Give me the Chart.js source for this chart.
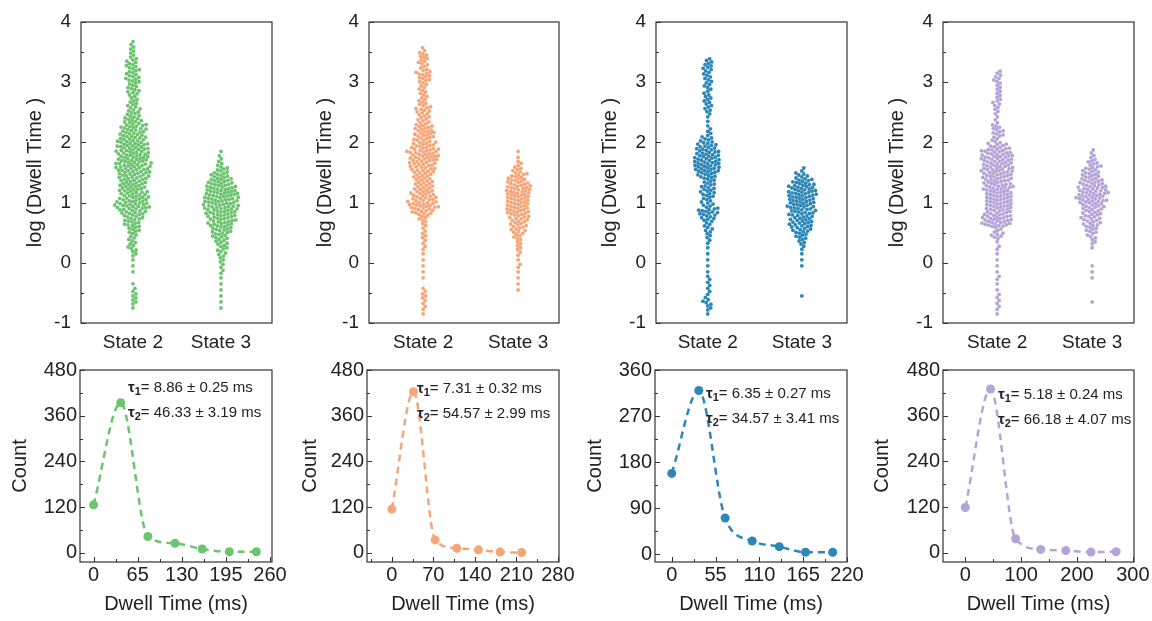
<!DOCTYPE html>
<html>
<head>
<meta charset="utf-8">
<script src="https://cdn.jsdelivr.net/npm/chart.js@4/dist/chart.umd.min.js"></script>
<style>
    body { margin: 0; background: #fff; width: 1152px; height: 621px; position: relative; overflow: hidden; }
    canvas { position: absolute; }
</style>
</head>
<body>
<script>
// Swarm data: point counts per 0.1-wide bin of log(dwell time), starting at -1.0
const states = ['State 2', 'State 3'];
const binStart = -1;
const binSize = 0.1;

const greenState2 = [
    0, 0, 1, 3, 3, 2, 1, 0, 1, 1,
    1, 3, 4, 4, 4, 6, 8, 9, 12, 16,
    14, 13, 13, 13, 14, 16, 16, 15, 15, 15,
    13, 12, 12, 9, 7, 6, 5, 4, 6, 5,
    7, 6, 6, 5, 3, 3, 2, 0, 0, 0
];
const greenState3 = [
    0, 0, 1, 1, 1, 1, 1, 1, 2, 2,
    3, 4, 5, 6, 8, 10, 12, 13, 15, 16,
    16, 16, 14, 12, 9, 6, 3, 2, 1, 0
];
const orangeState2 = [
    0, 1, 2, 2, 3, 2, 0, 1, 1, 1,
    1, 1, 2, 2, 3, 2, 3, 5, 10, 14,
    12, 11, 9, 9, 9, 11, 12, 14, 14, 11,
    9, 10, 9, 6, 6, 7, 5, 4, 4, 4,
    6, 7, 4, 5, 5, 2, 0, 0, 0, 0
];
const orangeState3 = [
    0, 0, 0, 0, 0, 1, 1, 1, 1, 2,
    1, 2, 3, 3, 5, 7, 8, 9, 11, 11,
    11, 12, 12, 10, 8, 5, 3, 1, 1, 0
];
const blueState2 = [
    0, 1, 3, 4, 2, 2, 2, 2, 1, 1,
    1, 1, 1, 2, 3, 4, 4, 7, 10, 6,
    5, 7, 7, 6, 9, 12, 13, 12, 11, 9,
    6, 3, 2, 1, 2, 4, 4, 4, 3, 4,
    4, 4, 5, 4, 0, 0, 0, 0, 0, 0
];
const blueState3 = [
    0, 0, 0, 0, 1, 0, 0, 0, 0, 1,
    1, 1, 2, 4, 6, 9, 11, 11, 12, 13,
    13, 14, 13, 10, 6, 2, 0, 0, 0, 0
];
const purpleState2 = [
    0, 1, 2, 2, 2, 1, 1, 2, 1, 1,
    1, 1, 2, 1, 6, 4, 14, 14, 12, 13,
    13, 13, 14, 13, 14, 15, 14, 15, 14, 9,
    4, 6, 5, 2, 2, 3, 4, 3, 3, 3,
    4, 3, 0, 0, 0, 0, 0, 0, 0, 0
];
const purpleState3 = [
    0, 0, 0, 1, 0, 0, 0, 1, 1, 1,
    0, 0, 1, 3, 4, 6, 8, 9, 9, 11,
    14, 14, 13, 11, 9, 8, 6, 3, 2, 0
];

// Dwell time histograms (bin position in ms, count)
const dwellX1 = [0, 40, 80, 120, 160, 200, 240];
const count1 = [126, 394, 43, 25, 10, 3, 3];
const dwellX2 = [0, 36.5, 73, 109.5, 146, 182.5, 219];
const count2 = [115, 423, 34, 12, 8, 2, 1];
const dwellX3 = [0, 34, 67, 101, 135, 168, 202];
const count3 = [158, 320, 71, 26, 15, 4, 4];
const dwellX4 = [0, 45, 90, 135, 180, 225, 270];
const count4 = [119, 430, 37, 9, 6, 2, 3];

// Tick labels
const logTicks = [-1, 0, 1, 2, 3, 4];
const xTicks1 = [0, 65, 130, 195, 260];
const xTicks2 = [0, 70, 140, 210, 280];
const xTicks3 = [0, 55, 110, 165, 220];
const xTicks4 = [0, 100, 200, 300];
const countTicks480 = [0, 120, 240, 360, 480];
const countTicks360 = [0, 90, 180, 270, 360];

// Fitted lifetimes
const tau1Labels = ['8.86 ± 0.25 ms', '7.31 ± 0.32 ms', '6.35 ± 0.27 ms', '5.18 ± 0.24 ms'];
const tau2Labels = ['46.33 ± 3.19 ms', '54.57 ± 2.99 ms', '34.57 ± 3.41 ms', '66.18 ± 4.07 ms'];

const colors = ['#6cc46e', '#f5a679', '#2c87b8', '#b4a5d8'];

const panels = [
    { color: colors[0], s2: greenState2, s3: greenState3, xs: dwellX1, ys: count1, xTicks: xTicks1, yTicks: countTicks480, xMin: -20, xMax: 263, yMin: -24, yMax: 480 },
    { color: colors[1], s2: orangeState2, s3: orangeState3, xs: dwellX2, ys: count2, xTicks: xTicks2, yTicks: countTicks480, xMin: -42, xMax: 282, yMin: -24, yMax: 480 },
    { color: colors[2], s2: blueState2, s3: blueState3, xs: dwellX3, ys: count3, xTicks: xTicks3, yTicks: countTicks360, xMin: -21, xMax: 220, yMin: -15, yMax: 360 },
    { color: colors[3], s2: purpleState2, s3: purpleState3, xs: dwellX4, ys: count4, xTicks: xTicks4, yTicks: countTicks480, xMin: -40, xMax: 302, yMin: -24, yMax: 480 }
];

// Page layout of the eight plots (pixels)
const topRow = { top: 0, height: 356, boxTop: 22, boxBottom: 323 };
const bottomRow = { top: 355, height: 265, boxTop: 370, boxBottom: 562 };
const topBoxes = [
    { left: 0, boxL: 81, boxR: 272, catMin: 0.41, catMax: 2.58 },
    { left: 290, boxL: 369, boxR: 559, catMin: 0.43, catMax: 2.43 },
    { left: 575, boxL: 656, boxR: 847, catMin: 0.45, catMax: 2.48 },
    { left: 862, boxL: 943, boxR: 1134, catMin: 0.43, catMax: 2.44 }
];
const bottomBoxes = [
    { left: 0, boxL: 80, boxR: 272, titleX: 20, tauX: 48, tauY: 18 },
    { left: 290, boxL: 367, boxR: 559, titleX: 20, tauX: 50, tauY: 19 },
    { left: 580, boxL: 655, boxR: 847, titleX: 15, tauX: 51, tauY: 24 },
    { left: 862, boxL: 943, boxR: 1134, titleX: 20, tauX: 55, tauY: 25 }
];
const CANVAS_W = 290;
const FONT = "'Liberation Sans', Arial, sans-serif";
const TEXT = '#222';

Chart.defaults.font.family = FONT;
Chart.defaults.color = TEXT;

// Beeswarm layout: spread points of each bin sideways so dots don't overlap
function swarm(counts, pxPerY, diam) {
    const pts = [];
    counts.forEach((n, i) => {
        const lo = binStart + i * binSize;
        for (let j = 0; j < n; j++) pts.push(lo + (j + 0.5) / n * binSize);
    });
    const placed = [];
    pts.forEach(y => {
        const yp = y * pxPerY;
        const near = placed.filter(p => Math.abs(p.yp - yp) < diam);
        const cands = [0];
        near.forEach(p => {
            const dx = Math.sqrt(diam * diam - (p.yp - yp) ** 2);
            cands.push(p.xp + dx, p.xp - dx);
        });
        cands.sort((a, b) => Math.abs(a) - Math.abs(b));
        const xp = cands.find(c => near.every(p => (p.xp - c) ** 2 + (p.yp - yp) ** 2 >= diam * diam - 1e-6));
        placed.push({ xp, yp, y });
    });
    return placed;
}

// Frame around the plot area plus inward major/minor ticks
const frameTicks = {
    id: 'frameTicks',
    afterDatasetsDraw(chart, args, opts) {
        const { ctx, chartArea: a, scales } = chart;
        ctx.save();
        ctx.strokeStyle = '#333';
        ctx.lineWidth = 1.2;
        ctx.strokeRect(a.left, a.top, a.right - a.left, a.bottom - a.top);

        const marks = scale => {
            const major = scale.ticks.map(t => t.value);
            const minor = [];
            for (let i = 0; i < major.length - 1; i++) minor.push((major[i] + major[i + 1]) / 2);
            const step = major[1] - major[0];
            minor.push(major[0] - step / 2, major[major.length - 1] + step / 2);
            return [
                ...major.map(v => [v, 5]),
                ...minor.filter(v => v > scale.min && v < scale.max).map(v => [v, 3])
            ];
        };

        ctx.lineWidth = 1;
        ctx.beginPath();
        marks(scales.y).forEach(([v, len]) => {
            const py = Math.round(scales.y.getPixelForValue(v)) + 0.5;
            ctx.moveTo(a.left, py);
            ctx.lineTo(a.left + len, py);
        });
        if (opts.xTicks) {
            marks(scales.x).forEach(([v, len]) => {
                const px = Math.round(scales.x.getPixelForValue(v)) + 0.5;
                ctx.moveTo(px, a.bottom);
                ctx.lineTo(px, a.bottom - len);
            });
        }
        ctx.stroke();
        ctx.restore();
    },
    afterDraw(chart, args, opts) {
        if (!opts.tau) return;
        const { ctx, chartArea: a } = chart;
        const t = opts.tau;
        ctx.save();
        ctx.fillStyle = TEXT;
        ctx.textBaseline = 'middle';
        [[t.sub1, t.text1, 0], [t.sub2, t.text2, 25]].forEach(([sub, text, dy]) => {
            let x = a.left + t.x;
            const y = a.top + t.y + dy;
            ctx.font = 'bold 15px ' + FONT;
            ctx.fillText('τ', x, y);
            x += ctx.measureText('τ').width;
            ctx.font = 'bold 11px ' + FONT;
            ctx.fillText(sub, x, y + 4);
            x += ctx.measureText(sub).width;
            ctx.font = '15px ' + FONT;
            ctx.fillText('= ' + text, x, y);
        });
        ctx.restore();
    }
};

function makeCanvas(left, top, width, height) {
    const c = document.createElement('canvas');
    c.width = width;
    c.height = height;
    c.style.left = left + 'px';
    c.style.top = top + 'px';
    c.style.width = width + 'px';
    c.style.height = height + 'px';
    document.body.appendChild(c);
    return c;
}

function swarmChart(p, box) {
    const canvas = makeCanvas(box.left, topRow.top, CANVAS_W, topRow.height);
    const boxW = box.boxR - box.boxL;
    const pxPerX = boxW / (box.catMax - box.catMin);
    const pxPerY = (topRow.boxBottom - topRow.boxTop) / 5;
    const datasets = [p.s2, p.s3].map((counts, k) => ({
        data: swarm(counts, pxPerY, 3.6).map(pt => ({ x: k + 1 + pt.xp / pxPerX, y: pt.y })),
        backgroundColor: p.color,
        borderWidth: 0,
        pointRadius: 1.9,
        pointHoverRadius: 1.9
    }));

    new Chart(canvas, {
        type: 'scatter',
        data: { datasets },
        options: {
            responsive: false,
            animation: false,
            events: [],
            layout: { padding: { top: topRow.boxTop - topRow.top, right: box.left + CANVAS_W - box.boxR, left: 0, bottom: 0 } },
            plugins: { legend: { display: false }, tooltip: { enabled: false }, frameTicks: { xTicks: false } },
            scales: {
                x: {
                    type: 'linear', min: box.catMin, max: box.catMax,
                    grid: { display: false, drawTicks: false }, border: { display: false },
                    afterBuildTicks: s => { s.ticks = [1, 2].map(v => ({ value: v })); },
                    afterFit: s => { s.height = topRow.top + topRow.height - topRow.boxBottom; },
                    ticks: { callback: v => states[v - 1], padding: 8, font: { size: 19 }, maxRotation: 0, autoSkip: false }
                },
                y: {
                    min: -1, max: 4,
                    grid: { display: false, drawTicks: false }, border: { display: false },
                    afterBuildTicks: s => { s.ticks = logTicks.map(v => ({ value: v })); },
                    afterFit: s => { s.width = box.boxL - box.left; },
                    ticks: { padding: 10, font: { size: 19 } },
                    title: { display: true, text: 'log (Dwell Time )', font: { size: 20 }, padding: { top: 23 } }
                }
            }
        },
        plugins: [frameTicks]
    });
}

function histChart(p, box, i) {
    const canvas = makeCanvas(box.left, bottomRow.top, CANVAS_W, bottomRow.height);
    new Chart(canvas, {
        type: 'scatter',
        data: {
            datasets: [{
                data: p.xs.map((x, k) => ({ x, y: p.ys[k] })),
                showLine: true,
                borderColor: p.color,
                borderWidth: 2.5,
                borderDash: [7, 5],
                cubicInterpolationMode: 'monotone',
                backgroundColor: p.color,
                pointRadius: 4.5,
                pointHoverRadius: 4.5,
                pointBorderWidth: 0
            }]
        },
        options: {
            responsive: false,
            animation: false,
            events: [],
            layout: { padding: { top: bottomRow.boxTop - bottomRow.top, right: box.left + CANVAS_W - box.boxR, left: 0, bottom: 0 } },
            plugins: {
                legend: { display: false }, tooltip: { enabled: false },
                frameTicks: {
                    xTicks: true,
                    tau: { x: box.tauX, y: box.tauY, sub1: '1', sub2: '2', text1: tau1Labels[i], text2: tau2Labels[i] }
                }
            },
            scales: {
                x: {
                    type: 'linear', min: p.xMin, max: p.xMax,
                    grid: { display: false, drawTicks: false }, border: { display: false },
                    afterBuildTicks: s => { s.ticks = p.xTicks.map(v => ({ value: v })); },
                    afterFit: s => { s.height = bottomRow.top + bottomRow.height - bottomRow.boxBottom; },
                    ticks: { padding: 1, font: { size: 20 }, maxRotation: 0, autoSkip: false },
                    title: { display: true, text: 'Dwell Time (ms)', font: { size: 20 }, padding: { bottom: 4 } }
                },
                y: {
                    min: p.yMin, max: p.yMax,
                    grid: { display: false, drawTicks: false }, border: { display: false },
                    afterBuildTicks: s => { s.ticks = p.yTicks.map(v => ({ value: v })); },
                    afterFit: s => { s.width = box.boxL - box.left; },
                    ticks: { padding: 3, font: { size: 20 } },
                    title: { display: true, text: 'Count', font: { size: 20 }, padding: { top: box.titleX - 12 } }
                }
            }
        },
        plugins: [frameTicks]
    });
}

panels.forEach((p, i) => {
    swarmChart(p, topBoxes[i]);
    histChart(p, bottomBoxes[i], i);
});
</script>
</body>
</html>
